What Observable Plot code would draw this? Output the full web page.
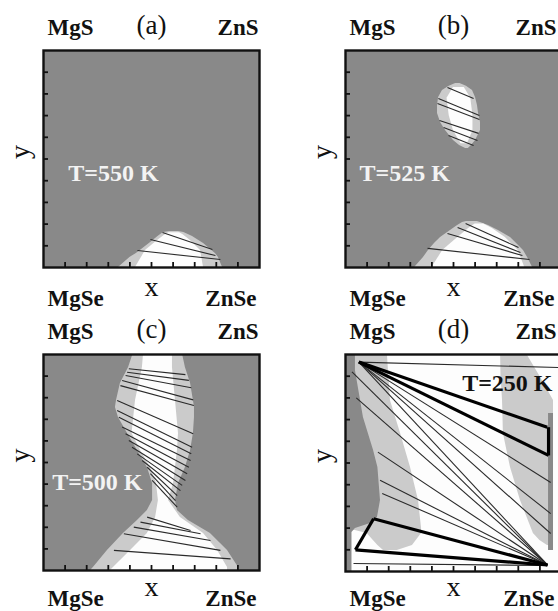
<!DOCTYPE html>
<html><head><meta charset="utf-8">
<script src="https://cdn.jsdelivr.net/npm/d3@7"></script>
<script src="https://cdn.jsdelivr.net/npm/@observablehq/plot@0.6"></script>
<style>
html,body{margin:0;padding:0;background:#fff;}
#root{position:relative;width:558px;height:611px;overflow:hidden;background:#fff;}
#root > .p{position:absolute;}
</style></head><body><div id="root"></div>
<script>
// ---------- data (composition coordinates x, y in [0,1]) ----------
const tickVals = [0.1,0.2,0.3,0.4,0.5,0.6,0.7,0.8,0.9];
const cornerTopLeft = "MgS", cornerTopRight = "ZnS", cornerBottomLeft = "MgSe", cornerBottomRight = "ZnSe";
const panelLetters = ["(a)","(b)","(c)","(d)"];
const tempLabels = ["T=550 K","T=525 K","T=500 K","T=250 K"];

// panel (a) T=550 K
const aLight = [
  {y:0,x1:0.347,x2:0.829},{y:0.046,x1:0.40,x2:0.81},{y:0.065,x1:0.43,x2:0.796},
  {y:0.111,x1:0.49,x2:0.741},{y:0.143,x1:0.53,x2:0.69},{y:0.161,x1:0.555,x2:0.65},
  {y:0.166,x1:0.585,x2:0.625}];
const aWhite = [
  {y:0,x1:0.426,x2:0.741},{y:0.078,x1:0.472,x2:0.727},{y:0.124,x1:0.528,x2:0.68},
  {y:0.152,x1:0.565,x2:0.645},{y:0.160,x1:0.58,x2:0.63}];
const aTies = [
  {x1:0.551,y1:0.161,x2:0.782,y2:0.083},
  {x1:0.495,y1:0.129,x2:0.796,y2:0.055},
  {x1:0.435,y1:0.078,x2:0.819,y2:0.037}];

// panel (b) T=525 K
const bIsleLight = [
  {y:0.548,x1:0.556,x2:0.569},{y:0.562,x1:0.528,x2:0.583},{y:0.585,x1:0.50,x2:0.602},
  {y:0.631,x1:0.463,x2:0.625},{y:0.668,x1:0.440,x2:0.625},{y:0.710,x1:0.426,x2:0.616},
  {y:0.747,x1:0.426,x2:0.611},{y:0.783,x1:0.431,x2:0.602},{y:0.816,x1:0.449,x2:0.588},
  {y:0.835,x1:0.48,x2:0.56},{y:0.848,x1:0.51,x2:0.53}];
const bIsleWhite = [
  {y:0.57,x1:0.535,x2:0.565},{y:0.63,x1:0.50,x2:0.59},{y:0.70,x1:0.48,x2:0.59},
  {y:0.78,x1:0.47,x2:0.58},{y:0.83,x1:0.50,x2:0.55}];
const bHillLight = [
  {y:0,x1:0.32,x2:0.866},{y:0.046,x1:0.361,x2:0.843},{y:0.078,x1:0.384,x2:0.824},
  {y:0.111,x1:0.412,x2:0.792},{y:0.138,x1:0.44,x2:0.764},{y:0.17,x1:0.486,x2:0.708},
  {y:0.194,x1:0.519,x2:0.662},{y:0.207,x1:0.542,x2:0.625},{y:0.212,x1:0.56,x2:0.61}];
const bHillWhite = [
  {y:0,x1:0.40,x2:0.83},{y:0.078,x1:0.45,x2:0.80},{y:0.138,x1:0.52,x2:0.74},
  {y:0.18,x1:0.57,x2:0.68},{y:0.20,x1:0.60,x2:0.64}];
const bTies = [
  {x1:0.472,y1:0.829,x2:0.593,y2:0.779},{x1:0.430,y1:0.779,x2:0.620,y2:0.700},
  {x1:0.426,y1:0.756,x2:0.620,y2:0.682},{x1:0.435,y1:0.677,x2:0.616,y2:0.618},
  {x1:0.454,y1:0.645,x2:0.611,y2:0.585},{x1:0.477,y1:0.608,x2:0.593,y2:0.562},
  {x1:0.556,y1:0.203,x2:0.801,y2:0.092},{x1:0.519,y1:0.184,x2:0.810,y2:0.069},
  {x1:0.472,y1:0.157,x2:0.819,y2:0.055},{x1:0.380,y1:0.088,x2:0.852,y2:0.037}];

// panel (c) T=500 K
const cLight = [
  {y:0,x1:0.218,x2:0.903},{y:0.014,x1:0.231,x2:0.903},{y:0.093,x1:0.296,x2:0.852},
  {y:0.171,x1:0.370,x2:0.773},{y:0.231,x1:0.435,x2:0.671},{y:0.278,x1:0.481,x2:0.620},
  {y:0.324,x1:0.505,x2:0.611},{y:0.403,x1:0.505,x2:0.625},{y:0.477,x1:0.481,x2:0.657},
  {y:0.556,x1:0.435,x2:0.681},{y:0.634,x1:0.389,x2:0.694},{y:0.708,x1:0.347,x2:0.699},
  {y:0.755,x1:0.333,x2:0.699},{y:0.787,x1:0.338,x2:0.694},{y:0.866,x1:0.356,x2:0.681},
  {y:0.940,x1:0.394,x2:0.657},{y:1,x1:0.414,x2:0.644}];
const cWhite = [
  {y:0,x1:0.310,x2:0.852},{y:0.014,x1:0.324,x2:0.852},{y:0.093,x1:0.403,x2:0.806},
  {y:0.171,x1:0.481,x2:0.741},{y:0.245,x1:0.519,x2:0.634},{y:0.324,x1:0.532,x2:0.579},
  {y:0.403,x1:0.523,x2:0.602},{y:0.477,x1:0.495,x2:0.611},{y:0.556,x1:0.449,x2:0.620},
  {y:0.634,x1:0.410,x2:0.625},{y:0.787,x1:0.426,x2:0.611},{y:0.940,x1:0.458,x2:0.597},
  {y:1,x1:0.463,x2:0.597}];
const cTies = [
  {x1:0.395,y1:0.934,x2:0.657,y2:0.907},{x1:0.387,y1:0.918,x2:0.673,y2:0.880},
  {x1:0.380,y1:0.903,x2:0.684,y2:0.846},{x1:0.364,y1:0.880,x2:0.693,y2:0.790},
  {x1:0.356,y1:0.856,x2:0.696,y2:0.764},{x1:0.341,y1:0.787,x2:0.693,y2:0.633},
  {x1:0.341,y1:0.741,x2:0.688,y2:0.571},{x1:0.349,y1:0.710,x2:0.684,y2:0.540},
  {x1:0.364,y1:0.664,x2:0.681,y2:0.509},{x1:0.380,y1:0.633,x2:0.673,y2:0.478},
  {x1:0.395,y1:0.602,x2:0.665,y2:0.448},{x1:0.410,y1:0.571,x2:0.657,y2:0.417},
  {x1:0.434,y1:0.540,x2:0.642,y2:0.394},{x1:0.457,y1:0.509,x2:0.634,y2:0.370},
  {x1:0.480,y1:0.478,x2:0.619,y2:0.347},{x1:0.495,y1:0.448,x2:0.611,y2:0.324},
  {x1:0.503,y1:0.417,x2:0.619,y2:0.293},
  {x1:0.480,y1:0.247,x2:0.681,y2:0.185},{x1:0.449,y1:0.224,x2:0.727,y2:0.170},
  {x1:0.418,y1:0.201,x2:0.773,y2:0.139},{x1:0.372,y1:0.170,x2:0.819,y2:0.093},
  {x1:0.326,y1:0.093,x2:0.866,y2:0.054}];

// panel (d) T=250 K
const dLightLeft = [
  {y:1,x1:0,x2:0.194},{y:0.788,x1:0,x2:0.208},{y:0.636,x1:0,x2:0.255},
  {y:0.479,x1:0,x2:0.301},{y:0.327,x1:0,x2:0.338},{y:0.20,x1:0,x2:0.352},
  {y:0.175,x1:0.10,x2:0.352},{y:0.12,x1:0.15,x2:0.31},{y:0.097,x1:0.176,x2:0.24}];
const dDarkLeft = [
  {y:1,x1:0,x2:0.046},{y:0.926,x1:0,x2:0.046},{y:0.71,x1:0,x2:0.083},
  {y:0.558,x1:0,x2:0.13},{y:0.479,x1:0,x2:0.15},{y:0.327,x1:0,x2:0.162},
  {y:0.249,x1:0,x2:0.148},{y:0.221,x1:0,x2:0.116},{y:0.198,x1:0,x2:0.046},
  {y:0.18,x1:0,x2:0.03},{y:0,x1:0,x2:0.03}];
const dLightRight = [
  {y:1,x1:0.718,x2:0.84},{y:0.90,x1:0.72,x2:0.90},{y:0.788,x1:0.727,x2:0.963},
  {y:0.636,x1:0.731,x2:0.963},{y:0.479,x1:0.764,x2:0.963},{y:0.327,x1:0.81,x2:0.963},
  {y:0.175,x1:0.87,x2:0.963},{y:0.143,x1:0.90,x2:0.963},{y:0.12,x1:0.935,x2:0.963}];
const dDarkRight = [{y:0.097,x1:0.94,x2:0.963},{y:0.728,x1:0.94,x2:0.963}];
const dTies = [
  {x1:0.062,y1:0.965,x2:0.99,y2:0.94},
  {x1:0.062,y1:0.965,x2:0.95,y2:0.41},
  {x1:0.062,y1:0.965,x2:0.95,y2:0.267},
  {x1:0.062,y1:0.965,x2:0.95,y2:0.175},
  {x1:0.062,y1:0.965,x2:0.935,y2:0.03},
  {x1:0.03,y1:0.92,x2:0.935,y2:0.03},
  {x1:0.05,y1:0.80,x2:0.935,y2:0.03},
  {x1:0.15,y1:0.55,x2:0.935,y2:0.03},
  {x1:0.16,y1:0.42,x2:0.935,y2:0.03},
  {x1:0.17,y1:0.36,x2:0.935,y2:0.03},
  {x1:0.037,y1:0.037,x2:0.90,y2:0.028}];
const dThick = [
  {x1:0.062,y1:0.965,x2:0.934,y2:0.665},
  {x1:0.062,y1:0.965,x2:0.94,y2:0.535},
  {x1:0.94,y1:0.665,x2:0.94,y2:0.535},
  {x1:0.13,y1:0.243,x2:0.935,y2:0.03},
  {x1:0.046,y1:0.10,x2:0.935,y2:0.03},
  {x1:0.13,y1:0.243,x2:0.046,y2:0.10}];

// ---------- drawing ----------
const DARK = "#898989", LIGHT = "#cbcbcb", WHITE = "#fdfdfd", INK = "#111";
const SERIF = "Liberation Serif, Times New Roman, serif";

function panel(cfg) {
  const W = 216, H = cfg.h, ML = 43, MT = 50, MR = 20, MB = 40;
  const lab = (t, o) => Plot.text([t], {text: d => d, fontFamily: SERIF, fill: INK, ...o});
  const marks = [
    Plot.frame({fill: cfg.bg, stroke: null}),
    ...cfg.regions.map(r => Plot.areaX(r.data, {y: "y", x1: "x1", x2: "x2", fill: r.fill, curve: "linear"})),
    Plot.link(cfg.ties, {x1: "x1", y1: "y1", x2: "x2", y2: "y2", stroke: "#2a2a2a", strokeWidth: 1.1}),
    cfg.thick ? Plot.link(cfg.thick, {x1: "x1", y1: "y1", x2: "x2", y2: "y2", stroke: "#000", strokeWidth: 3.2}) : null,
    Plot.tickY(tickVals, {y: d => d, insetRight: W - 5, stroke: INK, strokeWidth: 1.8}),
    Plot.tickX(tickVals, {x: d => d, insetTop: H - 5, stroke: INK, strokeWidth: 1.8}),
    Plot.frame({stroke: INK, strokeWidth: 2.4}),
    Plot.text([cfg.temp], {x: cfg.tx, y: cfg.ty, text: d => d, textAnchor: "start", fontFamily: SERIF,
      fontWeight: "bold", fontSize: 24, fill: cfg.tempColor}),
    lab(cornerTopLeft, {frameAnchor: "top-left", textAnchor: "start", lineAnchor: "bottom", dx: 4, dy: -16, fontSize: 23, fontWeight: "bold"}),
    lab(cfg.letter, {frameAnchor: "top", lineAnchor: "bottom", dy: -17, fontSize: 27}),
    lab(cornerTopRight, {frameAnchor: "top-right", textAnchor: "end", lineAnchor: "bottom", dx: cfg.rdx, dy: -16, fontSize: 23, fontWeight: "bold"}),
    lab(cornerBottomLeft, {frameAnchor: "bottom-left", textAnchor: "start", lineAnchor: "bottom", dx: 4, dy: cfg.bdy, fontSize: 23, fontWeight: "bold"}),
    lab("x", {frameAnchor: "bottom", lineAnchor: "bottom", dy: cfg.bdy - 10, fontSize: 28}),
    lab(cornerBottomRight, {frameAnchor: "bottom-right", textAnchor: "end", lineAnchor: "bottom", dx: cfg.rdx - 2, dy: cfg.bdy, fontSize: 23, fontWeight: "bold"}),
    lab("y", {frameAnchor: "left", rotate: -90, dx: -23, fontSize: 28})
  ];
  const svg = Plot.plot({
    width: ML + W + MR, height: MT + H + MB,
    marginLeft: ML, marginTop: MT, marginRight: MR, marginBottom: MB,
    x: {domain: [0, 1], axis: null}, y: {domain: [0, 1], axis: null},
    style: {background: "transparent", overflow: "visible"},
    marks
  });
  svg.classList.add("p");
  svg.style.left = cfg.left + "px";
  svg.style.top = cfg.top + "px";
  return svg;
}

const root = document.getElementById("root");
root.append(panel({left: 0, top: 0, h: 217, bg: DARK, letter: panelLetters[0], temp: tempLabels[0], tx: 0.115, ty: 0.433, tempColor: "#f3f3f3", bdy: 38, rdx: -1,
  regions: [{data: aLight, fill: LIGHT}, {data: aWhite, fill: WHITE}], ties: aTies}));
root.append(panel({left: 302, top: 0, h: 217, bg: DARK, letter: panelLetters[1], temp: tempLabels[1], tx: 0.065, ty: 0.433, tempColor: "#f3f3f3", bdy: 38, rdx: -5,
  regions: [{data: bIsleLight, fill: LIGHT}, {data: bIsleWhite, fill: WHITE}, {data: bHillLight, fill: LIGHT}, {data: bHillWhite, fill: WHITE}], ties: bTies}));
root.append(panel({left: 0, top: 304, h: 216, bg: DARK, letter: panelLetters[2], temp: tempLabels[2], tx: 0.04, ty: 0.41, tempColor: "#f3f3f3", bdy: 35, rdx: -1,
  regions: [{data: cLight, fill: LIGHT}, {data: cWhite, fill: WHITE}], ties: cTies}));
root.append(panel({left: 302, top: 304, h: 217, bg: WHITE, letter: panelLetters[3], temp: tempLabels[3], tx: 0.54, ty: 0.866, tempColor: "#111", bdy: 34, rdx: -5,
  regions: [{data: dLightLeft, fill: LIGHT}, {data: dDarkLeft, fill: DARK}, {data: dLightRight, fill: LIGHT}, {data: dDarkRight, fill: DARK}],
  ties: dTies, thick: dThick}));
</script>
</body></html>
